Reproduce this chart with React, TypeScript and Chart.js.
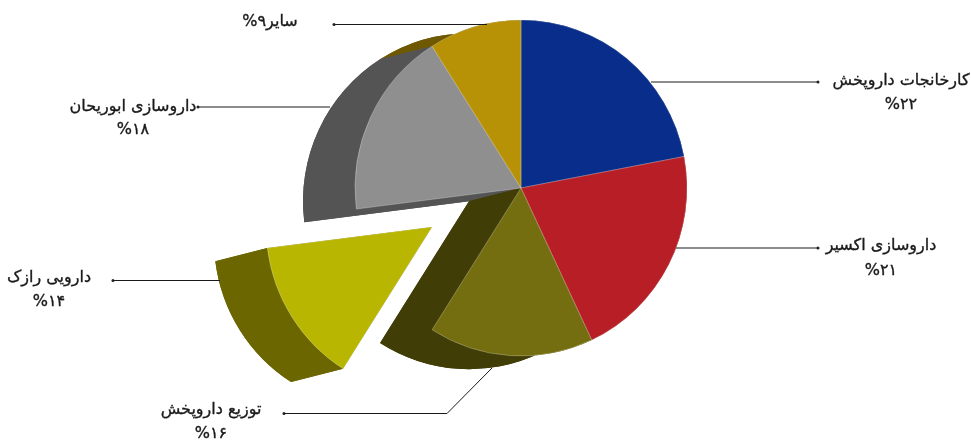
import React, { useEffect, useRef } from "react";
import { Chart, registerables } from "chart.js";

Chart.register(...registerables);

// ---- data ----
const categories = [
  "کارخانجات داروپخش",
  "داروسازی اکسیر",
  "توزیع داروپخش",
  "دارویی رازک",
  "داروسازی ابوریحان",
  "سایر",
];
const shares = [22, 21, 16, 14, 18, 9];
const faceColors = ["#082D8A", "#B71E25", "#746E10", "#B8B600", "#8F8F8F", "#B89206"];
const sideColors = ["#051C56", "#721317", "#413D07", "#6B6600", "#545454", "#6E5800"];

// ---- layout ----
const WIDTH = 971;
const HEIGHT = 440;
const CENTER_X = 521;
const CENTER_Y = 188;
const RADIUS = 166;
const SQUASH_Y = 1.012;
const DEPTH = { x: -52, y: 13 };
const EXPLODED = { index: 3, x: -89, y: 38.5 };
const SIDE_ORDER = [0, 1, 5, 4, 2, 3];
const FONT = "16px 'DejaVu Sans'";

type Callout = { line: number[][]; x: number; y1: number; y2: number | null };
const callouts: Callout[] = [
  { line: [[651, 82], [818, 82]], x: 901, y1: 81, y2: 105 },
  { line: [[676, 248], [818, 248]], x: 881, y1: 246, y2: 271 },
  { line: [[492, 368], [447, 413.5], [284, 413.5]], x: 211, y1: 410, y2: 434 },
  { line: [[220, 280.5], [113, 280.5]], x: 49, y1: 278, y2: 302 },
  { line: [[330, 107], [198, 107]], x: 133, y1: 107, y2: 130 },
  { line: [[487, 24.5], [334, 24.5]], x: 270, y1: 22, y2: null },
];

const faDigits = "۰۱۲۳۴۵۶۷۸۹";
const toFa = (n: number) => String(n).replace(/\d/g, (d) => faDigits[+d]);

const placementPlugin = {
  id: "placement",
  afterDatasetsUpdate(chart: any) {
    const arc = chart.getDatasetMeta(0).data[EXPLODED.index];
    arc.x += EXPLODED.x;
    arc.y += EXPLODED.y;
  },
};

const sidesPlugin = {
  id: "sides",
  beforeDatasetsDraw(chart: any) {
    const { ctx } = chart;
    const arcs = chart.getDatasetMeta(0).data;
    ctx.save();
    ctx.translate(0, CENTER_Y);
    ctx.scale(1, SQUASH_Y);
    ctx.translate(0, -CENTER_Y);
    SIDE_ORDER.forEach((i) => {
      const { x, y, startAngle: a, endAngle: b, outerRadius: r } = arcs[i];
      const bx = x + DEPTH.x;
      const by = y + DEPTH.y;
      ctx.save();
      ctx.fillStyle = sideColors[i];
      // back copy of the slice
      ctx.beginPath();
      ctx.moveTo(bx, by);
      ctx.arc(bx, by, r, a, b);
      ctx.closePath();
      ctx.fill();
      // walls joining the front slice to the back copy
      [a, b].forEach((t) => {
        ctx.beginPath();
        ctx.moveTo(x, y);
        ctx.lineTo(bx, by);
        ctx.lineTo(bx + r * Math.cos(t), by + r * Math.sin(t));
        ctx.lineTo(x + r * Math.cos(t), y + r * Math.sin(t));
        ctx.closePath();
        ctx.fill();
      });
      ctx.beginPath();
      ctx.arc(x, y, r, a, b);
      ctx.arc(bx, by, r, b, a, true);
      ctx.closePath();
      ctx.fill();
      ctx.restore();
    });
  },
  afterDatasetsDraw(chart: any) {
    chart.ctx.restore();
  },
};

const calloutPlugin = {
  id: "callouts",
  afterDraw(chart: any) {
    const { ctx } = chart;
    const put = (text: string, x: number, y: number, dir: string) => {
      ctx.direction = dir;
      ctx.fillText(text, x, y);
      ctx.strokeText(text, x, y);
    };
    callouts.forEach((c, i) => {
      ctx.save();
      ctx.strokeStyle = "#1a1a1a";
      ctx.lineWidth = 1;
      ctx.beginPath();
      c.line.forEach(([x, y], k) => (k ? ctx.lineTo(x, y) : ctx.moveTo(x, y)));
      ctx.stroke();
      const [ex, ey] = c.line[c.line.length - 1];
      ctx.fillStyle = "#222222";
      ctx.beginPath();
      ctx.arc(ex, ey, 1.5, 0, Math.PI * 2);
      ctx.fill();

      ctx.fillStyle = "#1a1a1a";
      ctx.lineWidth = 0.35;
      ctx.font = FONT;
      ctx.textAlign = "center";
      ctx.textBaseline = "middle";
      if (c.y2 === null) {
        put(`${categories[i]}${toFa(shares[i])}%`, c.x, c.y1, "rtl");
      } else {
        put(categories[i], c.x, c.y1, "rtl");
        put(`%${toFa(shares[i])}`, c.x, c.y2, "ltr");
      }
      ctx.restore();
    });
  },
};

export default function App() {
  const ref = useRef<HTMLCanvasElement | null>(null);

  useEffect(() => {
    if (!ref.current) return;
    const chart = new Chart(ref.current, {
      type: "pie",
      data: {
        labels: categories,
        datasets: [
          {
            data: shares,
            backgroundColor: faceColors,
            borderColor: "rgba(255,255,255,0.35)",
            borderWidth: 0.75,
          },
        ],
      },
      options: {
        responsive: false,
        animation: false,
        radius: RADIUS,
        layout: {
          padding: {
            left: 2 * CENTER_X - WIDTH,
            top: 0,
            right: 0,
            bottom: HEIGHT - 2 * CENTER_Y,
          },
        },
        plugins: { legend: { display: false }, tooltip: { enabled: false } },
      } as any,
      plugins: [placementPlugin, sidesPlugin, calloutPlugin],
    });
    return () => chart.destroy();
  }, []);

  return (
    <div style={{ position: "fixed", left: 0, top: 0, width: WIDTH, height: HEIGHT, background: "#fff" }}>
      <canvas ref={ref} width={WIDTH} height={HEIGHT} style={{ display: "block" }} />
    </div>
  );
}
